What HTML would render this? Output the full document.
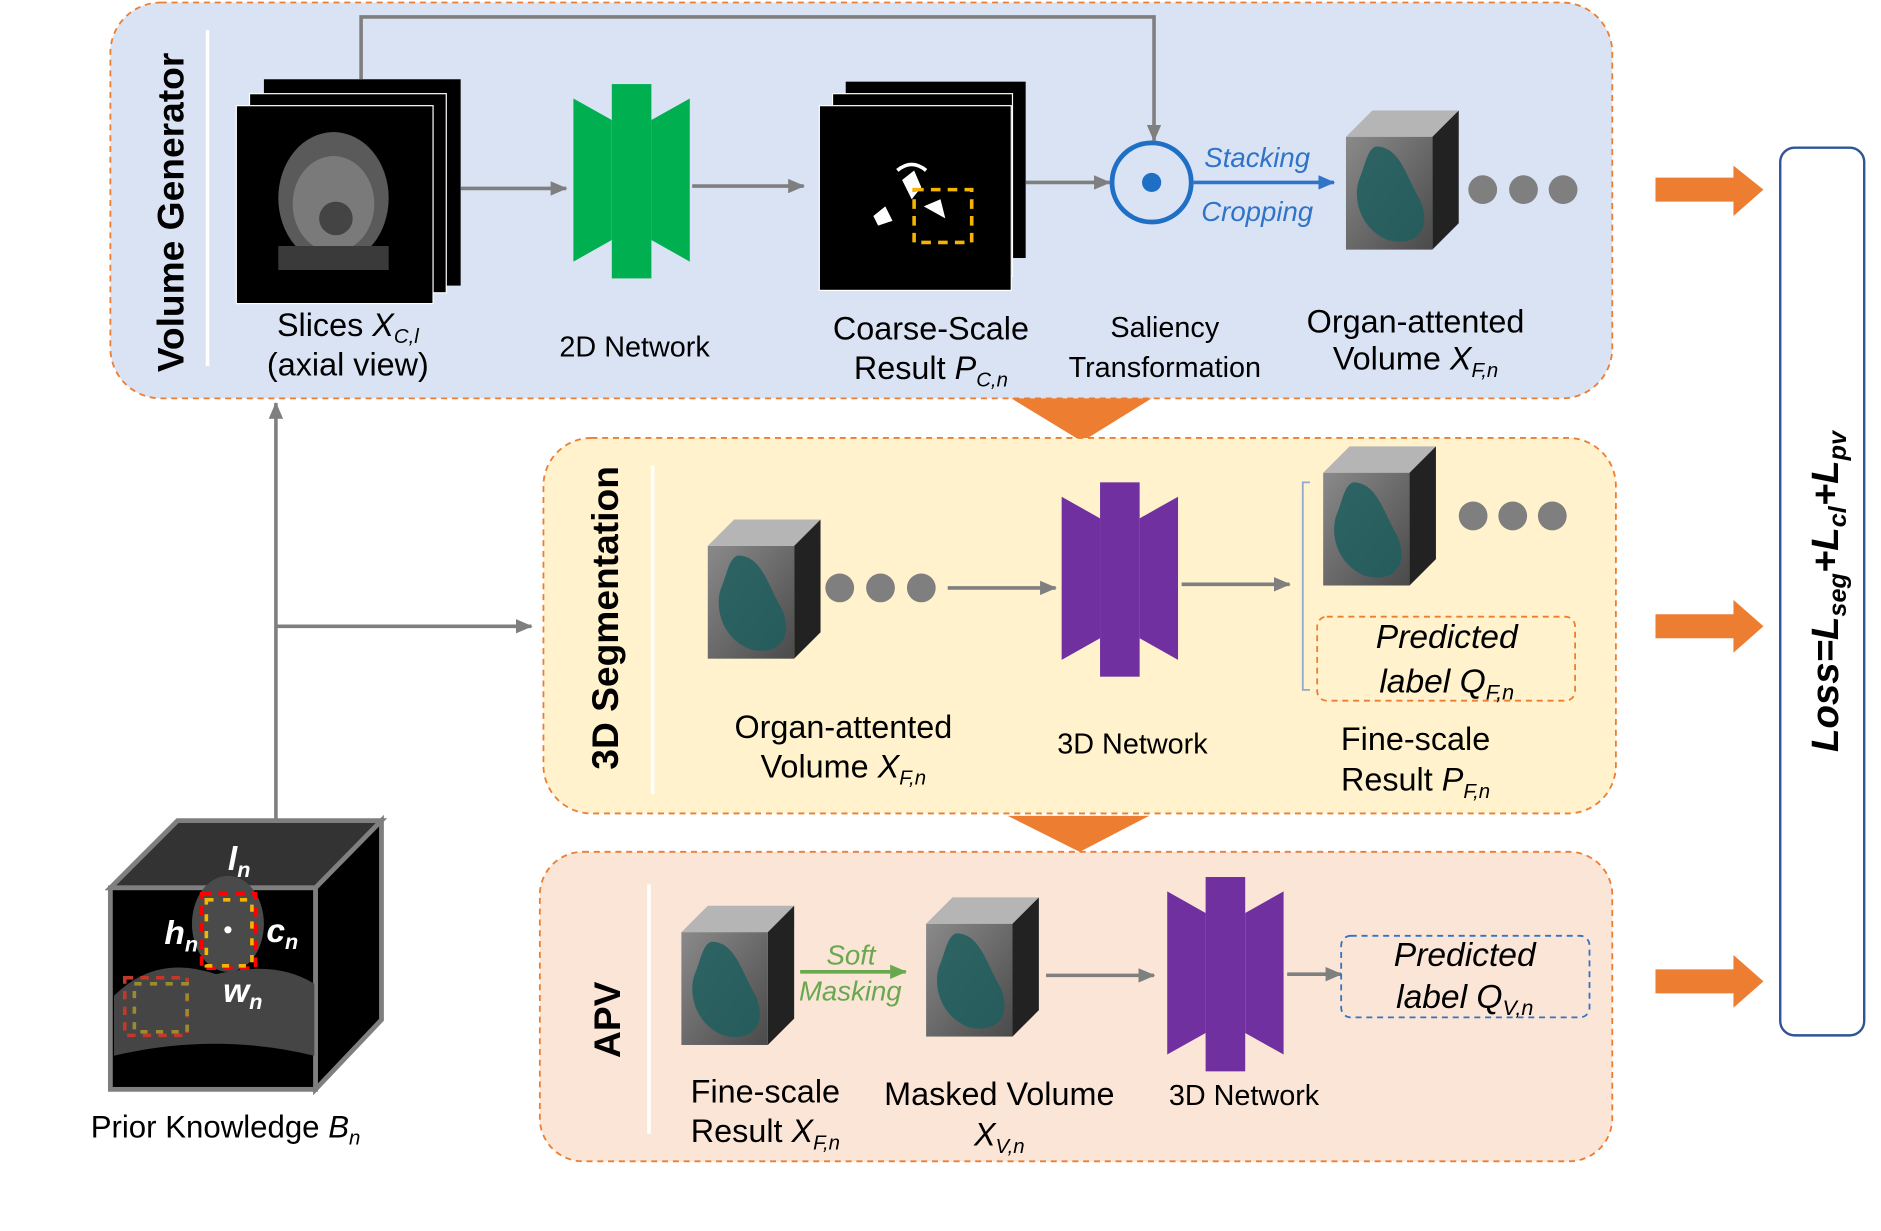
<!DOCTYPE html>
<html><head><meta charset="utf-8"><style>
html,body{margin:0;padding:0;background:#fff;width:1881px;height:1231px;overflow:hidden}
svg{display:block}
text{font-family:"Liberation Sans",sans-serif}
</style></head><body>
<svg width="1881" height="1231" viewBox="0 0 1568 1026" xmlns="http://www.w3.org/2000/svg">
<defs>
<marker id="ag2" markerWidth="14" markerHeight="12" refX="13" refY="6" orient="auto" markerUnits="userSpaceOnUse"><path d="M0,0 L14,6 L0,12z" fill="#7f7f7f"/></marker>
<marker id="ab" markerWidth="14" markerHeight="12" refX="13" refY="6" orient="auto" markerUnits="userSpaceOnUse"><path d="M0,0 L14,6 L0,12z" fill="#2f74c8"/></marker>
<marker id="agr" markerWidth="14" markerHeight="12" refX="13" refY="6" orient="auto" markerUnits="userSpaceOnUse"><path d="M0,0 L14,6 L0,12z" fill="#6aa84f"/></marker>
<linearGradient id="ct" x1="0" y1="0" x2="1" y2="1"><stop offset="0" stop-color="#8a8a8a"/><stop offset="1" stop-color="#4a4a4a"/></linearGradient>
<g id="cube">
<polygon points="0,22 22,0 94,0 72,22" fill="#b5b5b5"/>
<polygon points="72,22 94,0 94,94 72,116" fill="#222"/>
<rect x="0" y="22" width="72" height="94" fill="url(#ct)"/>
<path d="M25,30 C45,30 50,55 62,75 C72,100 58,114 35,108 C10,98 5,70 12,55 C16,45 18,32 25,30z" fill="#1f5e5e" opacity="0.85"/>
</g>
<g id="net">
<polygon points="0,12 32,30 32,130 0,148" fill="currentColor"/>
<rect x="32" y="0" width="33" height="162" fill="currentColor"/>
<polygon points="65,30 97,12 97,148 65,130" fill="currentColor"/>
</g>
</defs>

<rect x="92" y="2" width="1252" height="330" rx="42" fill="#dae3f3" stroke="#ed7d31" stroke-width="1.5" stroke-dasharray="5,4"/>
<line x1="173" y1="25" x2="173" y2="305" stroke="#fff" stroke-width="3"/>
<text transform="translate(153,177) rotate(-90)" text-anchor="middle" font-size="31" font-weight="bold">Volume Generator</text>

<rect x="220" y="66" width="164" height="172" fill="#000"/>
<rect x="208" y="78" width="164" height="166" fill="#000" stroke="#fff" stroke-width="1"/>
<rect x="197" y="88" width="164" height="165" fill="#000" stroke="#fff" stroke-width="1"/>
<ellipse cx="278" cy="165" rx="46" ry="55" fill="#5a5a5a"/>
<ellipse cx="278" cy="170" rx="34" ry="40" fill="#7a7a7a"/>
<circle cx="280" cy="182" r="14" fill="#444"/>
<rect x="232" y="205" width="92" height="20" fill="#3a3a3a"/>

<line x1="384" y1="157" x2="472" y2="157" stroke="#7f7f7f" stroke-width="3" marker-end="url(#ag2)"/>
<g transform="translate(478,70)" color="#00b050"><use href="#net"/></g>
<line x1="577" y1="155" x2="670" y2="155" stroke="#7f7f7f" stroke-width="3" marker-end="url(#ag2)"/>

<rect x="705" y="68" width="150" height="147" fill="#000"/>
<rect x="694" y="78" width="150" height="152" fill="#000" stroke="#fff"/>
<rect x="683" y="88" width="160" height="154" fill="#000" stroke="#fff"/>
<path d="M752,150 l10,-8 l6,14 l-8,10z M728,180 l10,-8 l6,12 l-12,4z M770,172 l14,-6 l4,16z" fill="#fff"/>
<path d="M748,142 q12,-10 24,0" stroke="#fff" stroke-width="3" fill="none"/>
<rect x="762" y="158" width="48" height="44" fill="none" stroke="#f4b400" stroke-width="3" stroke-dasharray="8,6"/>

<line x1="855" y1="152" x2="925" y2="152" stroke="#7f7f7f" stroke-width="3" marker-end="url(#ag2)"/>
<circle cx="960" cy="152" r="33" fill="none" stroke="#1f6fc5" stroke-width="4"/>
<circle cx="960" cy="152" r="8" fill="#1f6fc5"/>
<polyline points="301,66 301,14 962,14 962,117" fill="none" stroke="#7f7f7f" stroke-width="3" marker-end="url(#ag2)"/>
<line x1="995" y1="152" x2="1112" y2="152" stroke="#2f74c8" stroke-width="3" marker-end="url(#ab)"/>
<text x="1048" y="139" text-anchor="middle" font-size="23" font-style="italic" fill="#2f74c8">Stacking</text>
<text x="1048" y="184" text-anchor="middle" font-size="23" font-style="italic" fill="#2f74c8">Cropping</text>
<g transform="translate(1122,92)"><use href="#cube"/></g>
<circle cx="1236" cy="158" r="12" fill="#7f7f7f"/><circle cx="1270" cy="158" r="12" fill="#7f7f7f"/><circle cx="1303" cy="158" r="12" fill="#7f7f7f"/>

<g font-size="27" text-anchor="middle">
<text x="290" y="280">Slices  <tspan font-style="italic">X</tspan><tspan font-style="italic" font-size="17" dy="6">C,l</tspan></text>
<text x="290" y="313">(axial view)</text>
<text x="529" y="297" font-size="24">2D Network</text>
<text x="776" y="283">Coarse-Scale</text>
<text x="776" y="316">Result <tspan font-style="italic">P</tspan><tspan font-style="italic" font-size="17" dy="6">C,n</tspan></text>
<text x="971" y="281" font-size="24">Saliency</text>
<text x="971" y="314" font-size="24">Transformation</text>
<text x="1180" y="277">Organ-attented</text>
<text x="1180" y="308">Volume <tspan font-style="italic">X</tspan><tspan font-style="italic" font-size="17" dy="6">F,n</tspan></text>
</g>

<polygon points="843,332 960,332 902,368" fill="#ed7d31"/>

<rect x="453" y="365" width="894" height="313" rx="40" fill="#fff2cc" stroke="#ed7d31" stroke-width="1.5" stroke-dasharray="5,4"/>
<line x1="544" y1="388" x2="544" y2="662" stroke="#fff" stroke-width="3"/>
<text transform="translate(515,515) rotate(-90)" text-anchor="middle" font-size="31" font-weight="bold">3D Segmentation</text>
<g transform="translate(590,433)"><use href="#cube"/></g>
<circle cx="700" cy="490" r="12" fill="#7f7f7f"/><circle cx="734" cy="490" r="12" fill="#7f7f7f"/><circle cx="768" cy="490" r="12" fill="#7f7f7f"/>
<line x1="790" y1="490" x2="880" y2="490" stroke="#7f7f7f" stroke-width="3" marker-end="url(#ag2)"/>
<g transform="translate(885,402)" color="#7030a0"><use href="#net"/></g>
<line x1="985" y1="487" x2="1075" y2="487" stroke="#7f7f7f" stroke-width="3" marker-end="url(#ag2)"/>
<path d="M1092,402 L1086,402 L1086,575 L1092,575" fill="none" stroke="#8fa9d0" stroke-width="1.5"/>
<g transform="translate(1103,372)"><use href="#cube"/></g>
<circle cx="1228" cy="430" r="12" fill="#7f7f7f"/><circle cx="1261" cy="430" r="12" fill="#7f7f7f"/><circle cx="1294" cy="430" r="12" fill="#7f7f7f"/>
<rect x="1098" y="514" width="215" height="70" rx="8" fill="none" stroke="#ed7d31" stroke-width="1.5" stroke-dasharray="5,4"/>
<g font-size="28" font-style="italic" text-anchor="middle">
<text x="1206" y="540">Predicted</text>
<text x="1206" y="577">label Q<tspan font-size="18" dy="6">F,n</tspan></text>
</g>
<g font-size="27" text-anchor="middle">
<text x="703" y="615">Organ-attented</text>
<text x="703" y="648">Volume <tspan font-style="italic">X</tspan><tspan font-style="italic" font-size="17" dy="6">F,n</tspan></text>
<text x="944" y="628" font-size="24">3D Network</text>
<text x="1180" y="625">Fine-scale</text>
<text x="1180" y="659">Result  <tspan font-style="italic">P</tspan><tspan font-style="italic" font-size="17" dy="6">F,n</tspan></text>
</g>

<polygon points="840,680 958,680 900,710" fill="#ed7d31"/>

<rect x="450" y="710" width="894" height="258" rx="36" fill="#fbe5d6" stroke="#ed7d31" stroke-width="1.5" stroke-dasharray="5,4"/>
<line x1="541" y1="737" x2="541" y2="945" stroke="#fff" stroke-width="3"/>
<text transform="translate(517,850) rotate(-90)" text-anchor="middle" font-size="31" font-weight="bold">APV</text>
<g transform="translate(568,755)"><use href="#cube"/></g>
<line x1="667" y1="810" x2="755" y2="810" stroke="#6aa84f" stroke-width="3" marker-end="url(#agr)"/>
<text x="689" y="804" font-size="23" font-style="italic" fill="#6aa84f">Soft</text>
<text x="666" y="834" font-size="23" font-style="italic" fill="#6aa84f">Masking</text>
<g transform="translate(772,748)"><use href="#cube"/></g>
<line x1="872" y1="813" x2="962" y2="813" stroke="#7f7f7f" stroke-width="3" marker-end="url(#ag2)"/>
<g transform="translate(973,731)" color="#7030a0"><use href="#net"/></g>
<line x1="1073" y1="812" x2="1118" y2="812" stroke="#7f7f7f" stroke-width="3" marker-end="url(#ag2)"/>
<rect x="1118" y="780" width="207" height="68" rx="8" fill="none" stroke="#2f74c8" stroke-width="1.5" stroke-dasharray="5,4"/>
<g font-size="28" font-style="italic" text-anchor="middle">
<text x="1221" y="805">Predicted</text>
<text x="1221" y="840">label Q<tspan font-size="18" dy="6">V,n</tspan></text>
</g>
<g font-size="27" text-anchor="middle">
<text x="638" y="919">Fine-scale</text>
<text x="638" y="952">Result  <tspan font-style="italic">X</tspan><tspan font-style="italic" font-size="17" dy="6">F,n</tspan></text>
<text x="833" y="921">Masked Volume</text>
<text x="833" y="955"><tspan font-style="italic">X</tspan><tspan font-style="italic" font-size="17" dy="6">V,n</tspan></text>
<text x="1037" y="921" font-size="24">3D Network</text>
</g>

<g fill="#ed7d31">
<polygon points="1380,148 1445,148 1445,138 1470,158 1445,180 1445,168 1380,168"/>
<polygon points="1380,512 1445,512 1445,500 1470,522 1445,544 1445,532 1380,532"/>
<polygon points="1380,808 1445,808 1445,796 1470,818 1445,840 1445,828 1380,828"/>
</g>
<rect x="1484" y="123" width="70" height="740" rx="12" fill="#fff" stroke="#2f5597" stroke-width="2"/>
<text transform="translate(1532,493) rotate(-90)" text-anchor="middle" font-size="32" font-weight="bold" font-style="italic">Loss=L<tspan font-size="21" dy="7">seg</tspan><tspan dy="-7">+L</tspan><tspan font-size="21" dy="7">cl</tspan><tspan dy="-7">+L</tspan><tspan font-size="21" dy="7">pv</tspan></text>

<line x1="230" y1="683" x2="230" y2="336" stroke="#7f7f7f" stroke-width="3" marker-end="url(#ag2)"/>
<line x1="230" y1="522" x2="443" y2="522" stroke="#7f7f7f" stroke-width="3" marker-end="url(#ag2)"/>

<polygon points="92,740 148,684 318,684 263,740" fill="#333" stroke="#7f7f7f" stroke-width="4"/>
<polygon points="263,740 318,684 318,850 263,908" fill="#000" stroke="#7f7f7f" stroke-width="4"/>
<rect x="92" y="740" width="171" height="168" fill="#000" stroke="#7f7f7f" stroke-width="4"/>
<ellipse cx="190" cy="770" rx="30" ry="40" fill="#4a4a4a"/>
<path d="M95,830 Q130,795 180,812 Q230,800 262,820 L262,880 Q180,860 95,880z" fill="#454545"/>
<rect x="168" y="745" width="45" height="62" fill="none" stroke="#f00" stroke-width="3" stroke-dasharray="8,6"/>
<rect x="172" y="750" width="38" height="55" fill="none" stroke="#f4b400" stroke-width="3" stroke-dasharray="6,8"/>
<rect x="104" y="815" width="52" height="48" fill="none" stroke="#c0392b" stroke-width="3" stroke-dasharray="7,6"/>
<rect x="112" y="820" width="44" height="40" fill="none" stroke="#9a8a30" stroke-width="3" stroke-dasharray="6,7"/>
<circle cx="190" cy="775" r="3" fill="#fff"/>
<g fill="#fff" font-weight="bold" font-style="italic" font-size="28">
<text x="190" y="725">l<tspan font-size="18" dy="6">n</tspan></text>
<text x="137" y="787">h<tspan font-size="18" dy="6">n</tspan></text>
<text x="222" y="785">c<tspan font-size="18" dy="6">n</tspan></text>
<text x="186" y="835">w<tspan font-size="18" dy="6">n</tspan></text>
</g>
<text x="188" y="948" text-anchor="middle" font-size="26">Prior Knowledge  <tspan font-style="italic">B</tspan><tspan font-style="italic" font-size="17" dy="6">n</tspan></text>
</svg>
</body></html>
